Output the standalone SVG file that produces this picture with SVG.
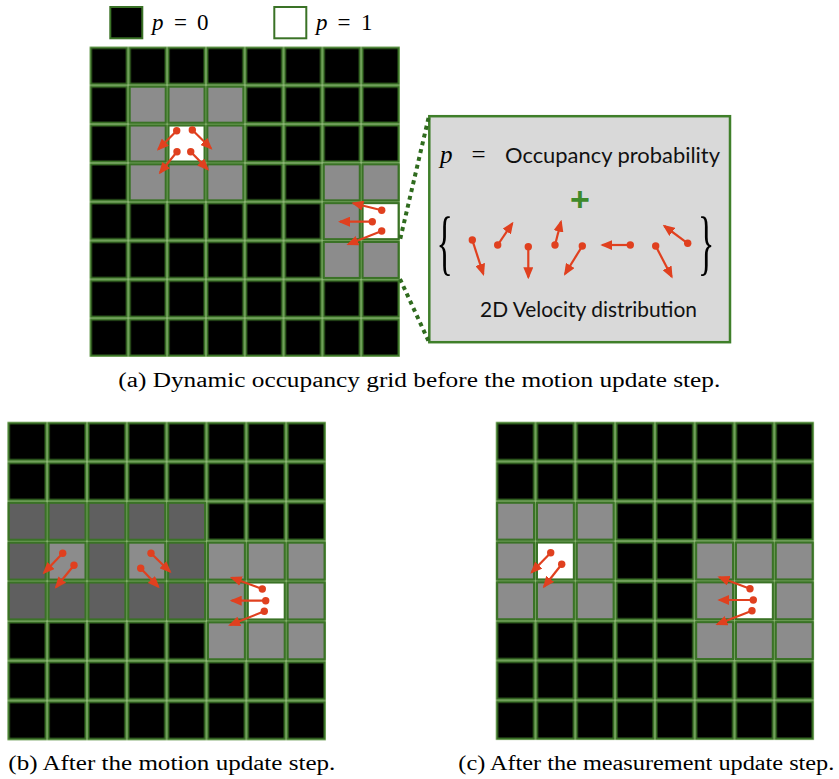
<svg xmlns="http://www.w3.org/2000/svg" width="839" height="779" viewBox="0 0 839 779">
<defs>
<style>
.cl{stroke:#3a7226;stroke-width:2}
.g{fill:#8c8c8c}
.d{fill:#5f5f5f}
.w{fill:#ffffff}
.ar{stroke:#e0401f;stroke-width:2.2;fill:none;marker-end:url(#ah);marker-start:url(#dot)}
.sans{font-family:Lato,'Liberation Sans',Arial,sans-serif;font-size:21px;fill:#111}
.dotl{stroke:#2f6b1e;stroke-width:4;stroke-dasharray:4 4;fill:none}
</style>
<pattern id="cell" width="40" height="40" patternUnits="userSpaceOnUse">
<rect width="40" height="40" fill="#a8cf90"/>
<rect x="1.5" y="1.5" width="37" height="37" fill="#000" class="cl"/>
</pattern>
<marker id="ah" markerUnits="userSpaceOnUse" markerWidth="12" markerHeight="10" refX="10" refY="5" orient="auto" viewBox="0 0 12 10">
<path d="M0,0 L12,5 L0,10 z" fill="#e0401f"/>
</marker>
<marker id="dot" markerUnits="userSpaceOnUse" markerWidth="8" markerHeight="8" refX="4" refY="4" viewBox="0 0 8 8">
<circle cx="4" cy="4" r="3.7" fill="#e0401f"/>
</marker>
</defs>
<rect width="839" height="779" fill="#fff"/>

<g id="legend" font-family="Liberation Serif, Times New Roman, serif" font-size="23" fill="#000">
<rect x="110.3" y="7" width="32" height="31.3" fill="#000" stroke="#3a7226" stroke-width="2"/>
<text x="152" y="29.5" font-style="italic">p</text>
<text x="174" y="29.5">=</text>
<text x="197" y="29.5">0</text>
<rect x="274.3" y="7" width="32" height="31.3" fill="#fff" stroke="#3a7226" stroke-width="2"/>
<text x="316" y="29.5" font-style="italic">p</text>
<text x="337.5" y="29.5">=</text>
<text x="361" y="29.5">1</text>
</g>

<g id="grid-a" transform="translate(89.5,46.5) scale(0.9703)">
<rect width="320" height="320" fill="url(#cell)"/>
<g class="cl">
<rect class="g" x="41.5" y="41.5" width="37" height="37"/>
<rect class="g" x="81.5" y="41.5" width="37" height="37"/>
<rect class="g" x="121.5" y="41.5" width="37" height="37"/>
<rect class="g" x="41.5" y="81.5" width="37" height="37"/>
<rect class="w" x="81.5" y="81.5" width="37" height="37"/>
<rect class="g" x="121.5" y="81.5" width="37" height="37"/>
<rect class="g" x="41.5" y="121.5" width="37" height="37"/>
<rect class="g" x="81.5" y="121.5" width="37" height="37"/>
<rect class="g" x="121.5" y="121.5" width="37" height="37"/>
<rect class="g" x="241.5" y="121.5" width="37" height="37"/>
<rect class="g" x="281.5" y="121.5" width="37" height="37"/>
<rect class="g" x="241.5" y="161.5" width="37" height="37"/>
<rect class="w" x="281.5" y="161.5" width="37" height="37"/>
<rect class="g" x="241.5" y="201.5" width="37" height="37"/>
<rect class="g" x="281.5" y="201.5" width="37" height="37"/>
</g>
</g>

<g id="grid-b" transform="translate(7.3,421.7) scale(0.996)">
<rect width="320" height="320" fill="url(#cell)"/>
<g class="cl">
<rect class="d" x="1.5" y="81.5" width="37" height="37"/>
<rect class="d" x="41.5" y="81.5" width="37" height="37"/>
<rect class="d" x="81.5" y="81.5" width="37" height="37"/>
<rect class="d" x="121.5" y="81.5" width="37" height="37"/>
<rect class="d" x="161.5" y="81.5" width="37" height="37"/>
<rect class="d" x="1.5" y="121.5" width="37" height="37"/>
<rect class="g" x="41.5" y="121.5" width="37" height="37"/>
<rect class="d" x="81.5" y="121.5" width="37" height="37"/>
<rect class="g" x="121.5" y="121.5" width="37" height="37"/>
<rect class="d" x="161.5" y="121.5" width="37" height="37"/>
<rect class="g" x="201.5" y="121.5" width="37" height="37"/>
<rect class="g" x="241.5" y="121.5" width="37" height="37"/>
<rect class="g" x="281.5" y="121.5" width="37" height="37"/>
<rect class="d" x="1.5" y="161.5" width="37" height="37"/>
<rect class="d" x="41.5" y="161.5" width="37" height="37"/>
<rect class="d" x="81.5" y="161.5" width="37" height="37"/>
<rect class="d" x="121.5" y="161.5" width="37" height="37"/>
<rect class="d" x="161.5" y="161.5" width="37" height="37"/>
<rect class="g" x="201.5" y="161.5" width="37" height="37"/>
<rect class="w" x="241.5" y="161.5" width="37" height="37"/>
<rect class="g" x="281.5" y="161.5" width="37" height="37"/>
<rect class="g" x="201.5" y="201.5" width="37" height="37"/>
<rect class="g" x="241.5" y="201.5" width="37" height="37"/>
<rect class="g" x="281.5" y="201.5" width="37" height="37"/>
</g>
</g>

<g id="grid-c" transform="translate(495.7,421.7) scale(0.995)">
<rect width="320" height="320" fill="url(#cell)"/>
<g class="cl">
<rect class="g" x="1.5" y="81.5" width="37" height="37"/>
<rect class="g" x="41.5" y="81.5" width="37" height="37"/>
<rect class="g" x="81.5" y="81.5" width="37" height="37"/>
<rect class="g" x="1.5" y="121.5" width="37" height="37"/>
<rect class="w" x="41.5" y="121.5" width="37" height="37"/>
<rect class="g" x="81.5" y="121.5" width="37" height="37"/>
<rect class="g" x="201.5" y="121.5" width="37" height="37"/>
<rect class="g" x="241.5" y="121.5" width="37" height="37"/>
<rect class="g" x="281.5" y="121.5" width="37" height="37"/>
<rect class="g" x="1.5" y="161.5" width="37" height="37"/>
<rect class="g" x="41.5" y="161.5" width="37" height="37"/>
<rect class="g" x="81.5" y="161.5" width="37" height="37"/>
<rect class="g" x="201.5" y="161.5" width="37" height="37"/>
<rect class="w" x="241.5" y="161.5" width="37" height="37"/>
<rect class="g" x="281.5" y="161.5" width="37" height="37"/>
<rect class="g" x="201.5" y="201.5" width="37" height="37"/>
<rect class="g" x="241.5" y="201.5" width="37" height="37"/>
<rect class="g" x="281.5" y="201.5" width="37" height="37"/>
</g>
</g>

<g id="callout">
<rect x="429.3" y="116.2" width="300.7" height="226" fill="#d9d9d9" stroke="#3f7f2a" stroke-width="2.5"/>
<text x="440" y="163.3" font-family="Liberation Serif, Times New Roman, serif" font-size="25" font-style="italic">p</text>
<text x="471.5" y="163.3" font-family="Liberation Serif, Times New Roman, serif" font-size="25">=</text>
<text class="sans" x="505" y="163.3" textLength="215" lengthAdjust="spacingAndGlyphs">Occupancy probability</text>
<text x="580" y="211" font-family="Liberation Sans, Arial, sans-serif" font-size="34" font-weight="bold" fill="#3e8a2b" text-anchor="middle">+</text>
<text font-family="Liberation Serif, Times New Roman, serif" font-size="34" transform="translate(436.6,266) scale(1,2.1)">{</text>
<text font-family="Liberation Serif, Times New Roman, serif" font-size="34" transform="translate(698,266) scale(1,2.1)">}</text>
<text class="sans" x="480" y="316.7" textLength="217" lengthAdjust="spacingAndGlyphs">2D Velocity distribution</text>
</g>

<g id="connectors">
<line class="dotl" x1="428.5" y1="118" x2="400" y2="240"/>
<line class="dotl" x1="400" y1="279" x2="428.5" y2="341"/>
<line class="ar" x1="176.7" y1="130.7" x2="158.3" y2="149.3"/>
<line class="ar" x1="192.3" y1="130" x2="211" y2="148.3"/>
<line class="ar" x1="177" y1="151.7" x2="160" y2="172.7"/>
<line class="ar" x1="190.7" y1="151.7" x2="207.7" y2="169.3"/>
<line class="ar" x1="381.7" y1="210.3" x2="353.3" y2="203.3"/>
<line class="ar" x1="372.3" y1="221.7" x2="340" y2="221.7"/>
<line class="ar" x1="381.7" y1="231" x2="348.3" y2="244.3"/>
<line class="ar" x1="472.3" y1="240" x2="483.3" y2="274"/>
<line class="ar" x1="497.7" y1="245" x2="512.3" y2="223.3"/>
<line class="ar" x1="528.3" y1="246.7" x2="528.3" y2="277.3"/>
<line class="ar" x1="555" y1="245" x2="561" y2="221.7"/>
<line class="ar" x1="582.3" y1="246" x2="565" y2="274"/>
<line class="ar" x1="630.3" y1="245" x2="602.3" y2="245"/>
<line class="ar" x1="655.7" y1="246" x2="671.7" y2="276.7"/>
<line class="ar" x1="687.7" y1="243.3" x2="664.3" y2="226"/>
<line class="ar" x1="62.7" y1="553.3" x2="44" y2="572.7"/>
<line class="ar" x1="74" y1="565.3" x2="56" y2="587.3"/>
<line class="ar" x1="151" y1="553.3" x2="170" y2="571.7"/>
<line class="ar" x1="140.7" y1="568.3" x2="158.3" y2="586.7"/>
<line class="ar" x1="262.3" y1="589" x2="231.7" y2="577.7"/>
<line class="ar" x1="265.7" y1="600.7" x2="231.7" y2="600.7"/>
<line class="ar" x1="264.3" y1="611.3" x2="230" y2="625"/>
<line class="ar" x1="550.7" y1="552.7" x2="531.7" y2="572.3"/>
<line class="ar" x1="561.7" y1="564.3" x2="544" y2="586.7"/>
<line class="ar" x1="750" y1="588.7" x2="719.3" y2="577.3"/>
<line class="ar" x1="753.3" y1="600" x2="719.3" y2="600"/>
<line class="ar" x1="752" y1="610.7" x2="717.3" y2="624.3"/>
</g>

<g id="captions" font-family="Liberation Serif, Times New Roman, serif" font-size="20" fill="#000">
<text x="118.3" y="387" textLength="602" lengthAdjust="spacingAndGlyphs">(a) Dynamic occupancy grid before the motion update step.</text>
<text x="8.3" y="770" textLength="327" lengthAdjust="spacingAndGlyphs">(b) After the motion update step.</text>
<text x="458.3" y="770" textLength="376" lengthAdjust="spacingAndGlyphs">(c) After the measurement update step.</text>
</g>
</svg>
